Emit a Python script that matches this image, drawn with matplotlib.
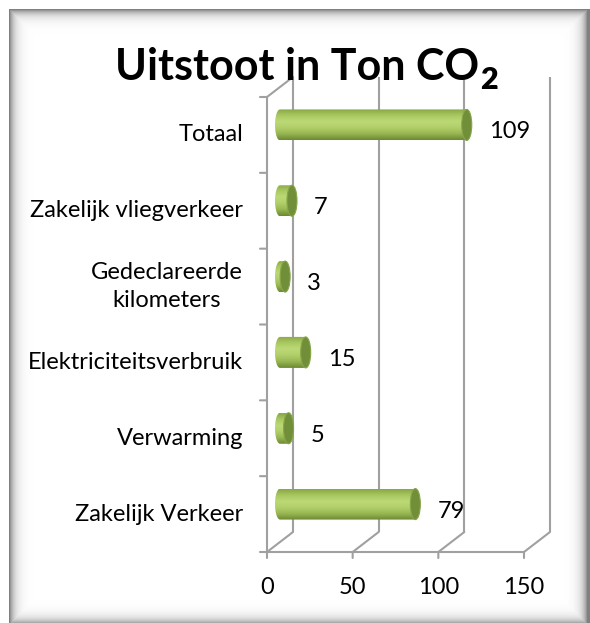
import numpy as np
import matplotlib
matplotlib.use('Agg')
from matplotlib import pyplot as plt
from matplotlib.patches import Ellipse, PathPatch, ConnectionPatch
from matplotlib.path import Path
from matplotlib.transforms import ScaledTranslation
from matplotlib.colors import LinearSegmentedColormap

# data
categories = ['Zakelijk Verkeer', 'Verwarming', 'Elektriciteitsverbruik',
              'Gedeclareerde\nkilometers', 'Zakelijk vliegverkeer', 'Totaal']
values = [79, 5, 15, 3, 7, 109]
xticks = [0, 50, 100, 150]
title = 'Uitstoot in Ton CO'
title_sub = '2'

plt.rcParams['font.family'] = ['Lato', 'DejaVu Sans']

W, H = 590, 623
DPI = 100
fig = plt.figure(figsize=(W / DPI, H / DPI), dpi=DPI)

# panel with soft shadow along its edges
bg = fig.add_axes([0, 0, 1, 1], zorder=-5)
xx, yy = np.meshgrid(np.arange(W), np.arange(H))
d = np.minimum.reduce([xx - 9, yy - 9, W - 3 - xx, H + 1 - yy]).astype(float)
shade = 0.5 * np.exp(-np.clip(d, 0, None) / 5.0)
shade[(xx < 9) | (yy < 9)] = 0
bg.imshow(1 - shade, cmap='gray', vmin=0, vmax=1, aspect='auto', interpolation='nearest')
bg.axis('off')

# front plane of the 3d box
ax = fig.add_axes([267 / W, 71 / H, 257 / W, 455 / H])
ax.set_xlim(0, 150)
ax.set_ylim(0, len(categories))
ax.axis('off')

def shift(px, py):
    return ax.transData + ScaledTranslation(px / DPI, py / DPI, fig.dpi_scale_trans)

depth_x, depth_y = 26, 20
front = ax.transData
back = shift(depth_x, depth_y)
mid = shift(depth_x / 2, depth_y / 2)

gc = '#a0a0a0'
grid_kw = dict(color=gc, lw=1.5, solid_capstyle='butt')
n = len(categories)
fs = 17

# back wall gridlines
for t in xticks:
    ax.plot([t, t], [0, n], transform=back, clip_on=False, **grid_kw)
# left wall front edge + ticks
ax.plot([0, 0], [0, n], transform=front, clip_on=False, **grid_kw)
for k in range(n + 1):
    ax.add_artist(ConnectionPatch((0, k), (0, k), coordsA=front,
                                  coordsB=shift(-7, 0), color=gc, lw=1.5))
# top-left diagonal
ax.add_artist(ConnectionPatch((0, n), (0, n), coordsA=front, coordsB=back,
                              color=gc, lw=1.5))
# floor
ax.plot([0, 150], [0, 0], transform=front, clip_on=False, **grid_kw)
for t in xticks:
    ax.add_artist(ConnectionPatch((t, 0), (t, 0), coordsA=front, coordsB=back,
                                  color=gc, lw=1.5))
    ax.add_artist(ConnectionPatch((t, 0), (t, 0), coordsA=front, coordsB=shift(0, -6),
                                  color=gc, lw=1.5))
    ax.text(t, 0, str(t), transform=shift(0, -36), ha='center', va='center',
            fontsize=fs, color='black')

# cylinders
px_x = 257 / 150
px_y = 455 / n
r = 15.5 / px_y
ew = 10 / px_x
cyl = LinearSegmentedColormap.from_list(
    'cyl', ['#88a845', '#a9c860', '#bcd976', '#b1cf69', '#98b651', '#6c8a33'])
grad = np.linspace(0, 1, 64)[:, None]

for i, v in enumerate(values):
    cy = i + 0.5
    ang = np.linspace(np.pi / 2, 3 * np.pi / 2, 40)
    verts = [(v, cy + r)] + [(ew / 2 * np.cos(a), cy + r * np.sin(a)) for a in ang] + [(v, cy - r), (v, cy + r)]
    body = PathPatch(Path(verts, closed=True), transform=mid, facecolor='none',
                     edgecolor='none')
    ax.add_patch(body)
    im = ax.imshow(grad, cmap=cyl, extent=(-ew / 2, v, cy - r, cy + r), origin='upper',
                   aspect='auto', interpolation='bicubic', zorder=3)
    im.set_transform(mid)
    im.set_clip_path(body)
    ax.add_patch(Ellipse((v, cy), ew, 2 * r, transform=mid, facecolor='#718e39',
                         edgecolor='#86a549', lw=0.8, zorder=4))
    ax.text(v, cy, str(v), transform=shift(35, 3), ha='left', va='center',
            fontsize=fs, color='black')
    ax.text(0, cy, categories[i], transform=shift(-24, 0), ha='right', va='center',
            multialignment='center', fontsize=fs, color='black', linespacing=1.45)

ax.set_xlim(0, 150)
ax.set_ylim(0, n)

t = fig.text(115 / W, 1 - 80 / H, title, ha='left', va='baseline',
             fontsize=31, fontweight='bold')
ax.annotate(title_sub, xy=(1, 0), xycoords=t, xytext=(1, -5), textcoords='offset points',
            ha='left', va='bottom', fontsize=22, fontweight='heavy')

fig.savefig('out.png', dpi=DPI)
